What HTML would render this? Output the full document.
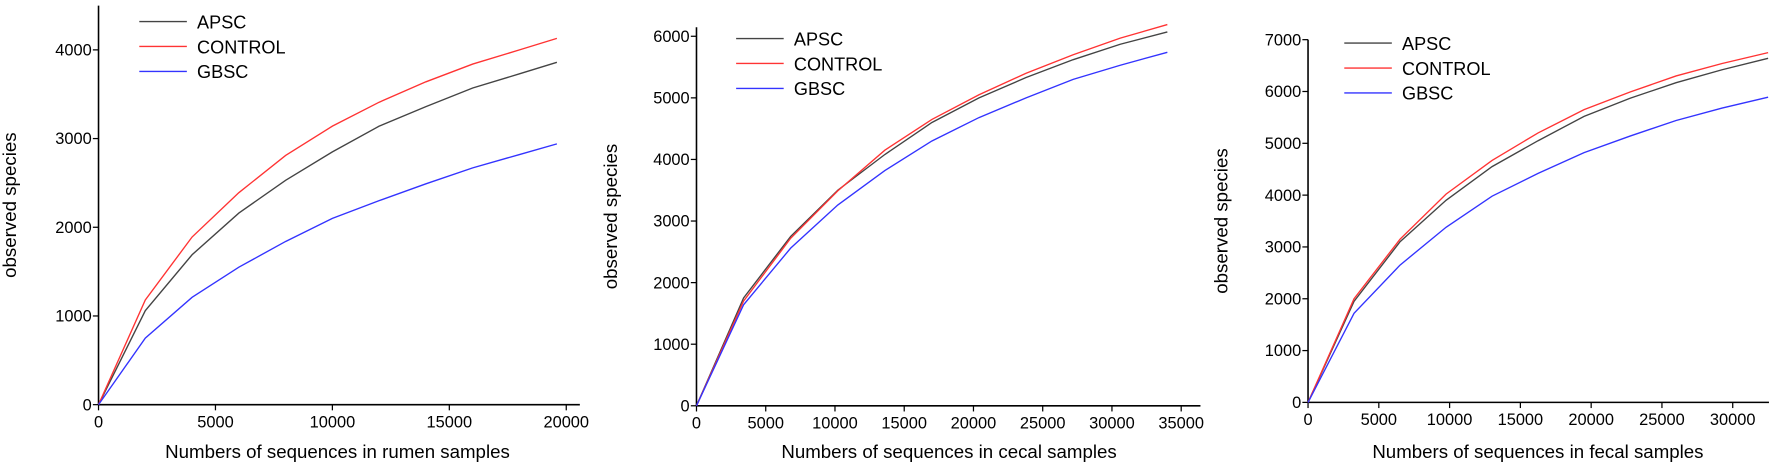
<!DOCTYPE html>
<html><head><meta charset="utf-8"><style>
html,body{margin:0;padding:0;background:#fff;}
svg{display:block;font-family:"Liberation Sans",Arial,sans-serif;}
</style></head><body>
<svg width="1772" height="471" viewBox="0 0 1772 471"><g id="chart" transform="scale(1.1325,1.1335)"></g></svg>
<script>
const seriesNames = ["APSC","CONTROL","GBSC"];
const seriesColors = ["#444444","#ff3333","#3333ff"];
const p1X = [0,2000,4000,6000,8000,10000,12000,14000,16000,18000,19600];
const p1APSC = [0,1060,1690,2160,2530,2850,3140,3360,3570,3730,3860];
const p1CONTROL = [0,1180,1890,2390,2810,3140,3410,3640,3840,4000,4130];
const p1GBSC = [0,750,1210,1550,1840,2100,2300,2490,2670,2820,2940];
const p1XTicks = [0,5000,10000,15000,20000];
const p1YTicks = [0,1000,2000,3000,4000];
const p2X = [0,3400,6800,10200,13600,17000,20400,23800,27200,30600,34000];
const p2APSC = [0,1750,2750,3500,4080,4600,5000,5330,5620,5870,6070];
const p2CONTROL = [0,1700,2720,3490,4150,4650,5050,5400,5700,5970,6190];
const p2GBSC = [0,1640,2560,3260,3820,4300,4680,5000,5300,5530,5740];
const p2XTicks = [0,5000,10000,15000,20000,25000,30000,35000];
const p2YTicks = [0,1000,2000,3000,4000,5000,6000];
const p3X = [0,3250,6500,9750,13000,16250,19500,22750,26000,29250,32500];
const p3APSC = [0,1950,3100,3900,4550,5050,5520,5870,6170,6420,6640];
const p3CONTROL = [0,2000,3150,4020,4670,5200,5650,5990,6300,6540,6750];
const p3GBSC = [0,1720,2650,3380,3980,4420,4820,5140,5440,5680,5890];
const p3XTicks = [0,5000,10000,15000,20000,25000,30000];
const p3YTicks = [0,1000,2000,3000,4000,5000,6000,7000];

const NS="http://www.w3.org/2000/svg";
const svg=document.getElementById('chart');
function mk(tag,attrs,parent){const e=document.createElementNS(NS,tag);for(const k in attrs)e.setAttribute(k,attrs[k]);(parent||svg).appendChild(e);return e;}

const panels=[
 {id:'rumen',x:p1X,ys:[p1APSC,p1CONTROL,p1GBSC],xt:p1XTicks,yt:p1YTicks,ox:87,oy:357,xMax:20000,xPx:413,yMax:4000,yPx:313,axEnd:512,axTop:5,title:'Numbers of sequences in rumen samples',tx:298,ytx:14,lx:123,ly:19},
 {id:'cecal',x:p2X,ys:[p2APSC,p2CONTROL,p2GBSC],xt:p2XTicks,yt:p2YTicks,ox:615,oy:358,xMax:35000,xPx:428,yMax:6000,yPx:326,axEnd:1060,axTop:24,title:'Numbers of sequences in cecal samples',tx:838,ytx:545,lx:650,ly:34},
 {id:'fecal',x:p3X,ys:[p3APSC,p3CONTROL,p3GBSC],xt:p3XTicks,yt:p3YTicks,ox:1155,oy:355,xMax:30000,xPx:375,yMax:7000,yPx:320,axEnd:1562,axTop:35,title:'Numbers of sequences in fecal samples',tx:1358,ytx:1084,lx:1187,ly:38}
];
panels.forEach(p=>{
  const g=mk('g',{});
  
  
  const sx=v=>p.ox+v/p.xMax*p.xPx;
  const sy=v=>p.oy-v/p.yMax*p.yPx;
  const ax=mk('g',{},g);
  
  
  mk('line',{x1:p.ox,y1:p.axTop,x2:p.ox,y2:p.oy,stroke:'#000','stroke-width':1.4},ax);
  mk('line',{x1:p.ox,y1:p.oy,x2:p.axEnd,y2:p.oy,stroke:'#000','stroke-width':1.4},ax);
  p.xt.forEach(t=>{
    mk('line',{x1:sx(t),y1:p.oy,x2:sx(t),y2:p.oy+5,stroke:'#000','stroke-width':1.1},ax);
    const tx=mk('text',{x:sx(t),y:p.oy+20,'font-size':14.5,'text-anchor':'middle',fill:'#000'},ax);
    tx.textContent=t;
    
    
  });
  p.yt.forEach(t=>{
    mk('line',{x1:p.ox-5,y1:sy(t),x2:p.ox,y2:sy(t),stroke:'#000','stroke-width':1.1},ax);
    const tx=mk('text',{x:p.ox-6,y:sy(t)+5,'font-size':14.5,'text-anchor':'end',fill:'#000'},ax);
    tx.textContent=t;
    
    
  });
  const xt=mk('text',{x:p.tx,y:404,'font-size':16.5,'text-anchor':'middle',fill:'#000'},g);
  xt.textContent=p.title;
  
  
  const yy=p.oy-(p.oy-p.axTop)/2;
  const yt=mk('text',{x:p.ytx,y:yy,'font-size':16.5,'text-anchor':'middle',fill:'#000',transform:'rotate(-90 '+p.ytx+' '+yy+')'},g);
  yt.textContent='observed species';
  
  
  p.ys.forEach((arr,i)=>{
    const pts=arr.map((v,j)=>sx(p.x[j])+','+sy(v)).join(' ');
    const pl=mk('polyline',{points:pts,fill:'none',stroke:seriesColors[i],'stroke-width':1.2},g);
    
    
    const le=mk('g',{},g);
    
    
    const ly=p.ly+i*22;
    mk('line',{x1:p.lx,y1:ly,x2:p.lx+42,y2:ly,stroke:seriesColors[i],'stroke-width':1.2},le);
    const lt=mk('text',{x:p.lx+51,y:ly+6,'font-size':16,fill:'#000'},le);
    lt.textContent=seriesNames[i];
  });
});
</script>
</body></html>
